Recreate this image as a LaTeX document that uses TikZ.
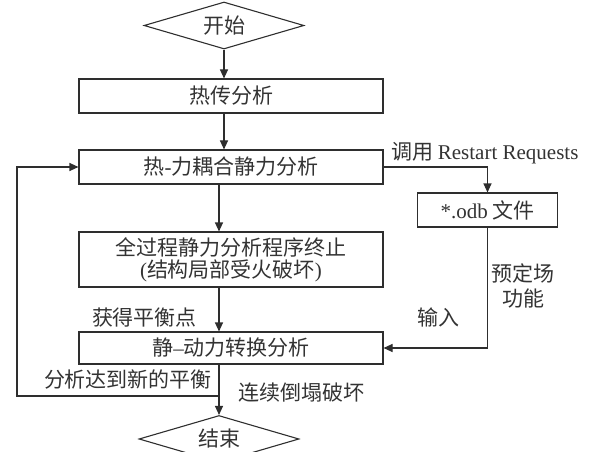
\documentclass[tikz,border=0pt]{standalone}
\usepackage{fontspec}
\setmainfont{Liberation Serif}
\newfontfamily\cjk{Noto Sans CJK SC}
\usetikzlibrary{shapes.geometric,arrows.meta}
\newcommand{\lat}[1]{{\rmfamily #1}}
\begin{document}
\begin{tikzpicture}[x=1pt,y=-1pt,
  every node/.style={font=\cjk\fontsize{21}{25}\selectfont, text=black!80},
  ink/.style={draw=black!82, line width=1.1pt},
  box/.style={ink, rectangle, minimum width=304pt, inner sep=0pt, align=center},
  term/.style={ink, diamond, aspect=3.4, minimum width=160pt, minimum height=47pt, inner sep=0pt},
  lbl/.style={inner sep=0pt, align=center},
  arr/.style={ink, -{Triangle[length=9pt,width=8pt]}}
]
\useasboundingbox (0,0) rectangle (590,452);
\clip (0,0) rectangle (590,452);

\node[term] (start) at (224,25.5) {开始};
\node[box, minimum height=34pt] (b1) at (231,96) {热传分析};
\node[box, minimum height=34pt] (b2) at (231,167) {热\lat{-}力耦合静力分析};
\node[box, minimum height=55pt] (b3) at (231,259.5) {全过程静力分析程序终止\\[-3.4pt]\lat{(}结构局部受火破坏\lat{)}};
\node[box, minimum height=32pt] (b4) at (231,348) {静\lat{–}动力转换分析};
\node[ink, rectangle, minimum width=140pt, minimum height=34pt, inner sep=0pt] (odb) at (487.5,210) {\lat{*.odb} 文件};
\node[term] (end) at (219,439) {结束};

\coordinate (j) at (219,396);
\coordinate (fb) at (17,396);

\draw[arr] (start.south) -- (start.south |- b1.north);
\draw[arr] (b1.south -| start.south) -- (start.south |- b2.north);
\draw[arr] (b2.south -| end.north) -- (end.north |- b3.north);
\draw[arr] (b3.south -| end.north) -- (end.north |- b4.north);
\draw[arr] (b4.south -| end.north) -- (end.north);
\draw[arr] (j) -- (fb) |- (b2.west);
\draw[arr] (b2.east) -| (odb.north);
\draw[arr] (odb.south) |- (b4.east);

\node[lbl, anchor=west] (l1) at (391,153) {调用 \lat{Restart Requests}};
\node[lbl] (l2) at (523,285.5) {预定场\\功能};
\node[lbl] (l3) at (438,317) {输入};
\node[lbl] (l4) at (144.5,318) {获得平衡点};
\node[lbl] (l5) at (128,380) {分析达到新的平衡};
\node[lbl] (l6) at (301.5,393) {连续倒塌破坏};
\end{tikzpicture}
\end{document}
